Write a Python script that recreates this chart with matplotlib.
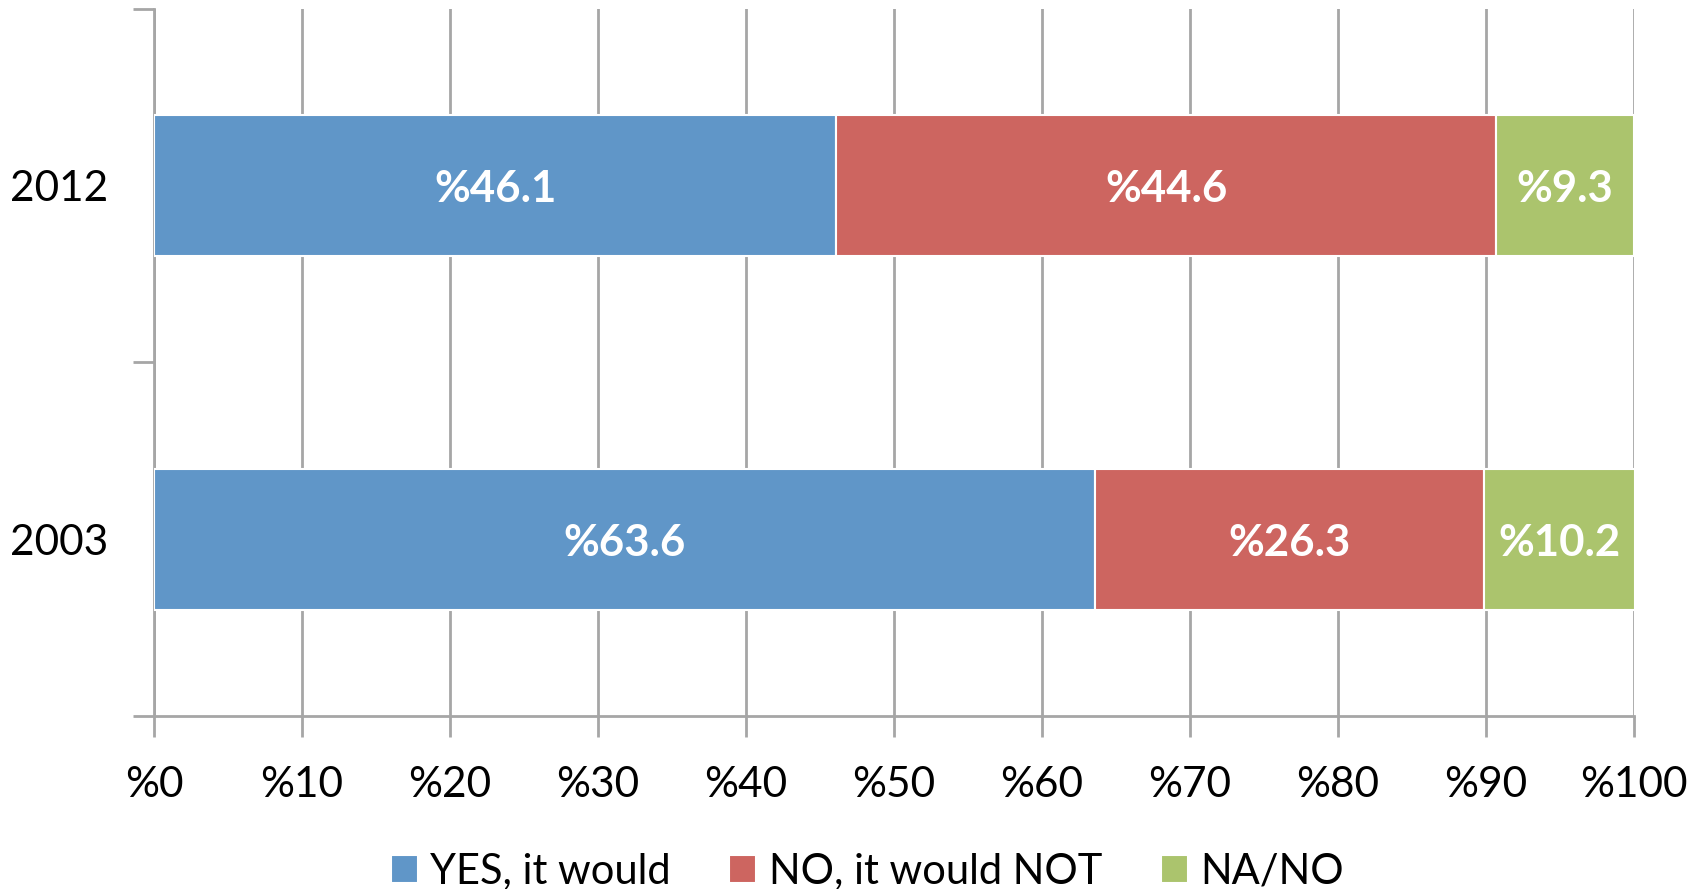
import matplotlib.pyplot as plt
import numpy as np

# data
years = ['2003', '2012']
yes_vals = [63.6, 46.1]
no_vals = [26.3, 44.6]
na_vals = [10.2, 9.3]
series_names = ['YES, it would', 'NO, it would NOT', 'NA/NO']
colors = ['#6096C8', '#CD6560', '#ABC46D']
x_ticks = list(range(0, 101, 10))

plt.rcParams['font.family'] = ['Lato', 'DejaVu Sans']

fig = plt.figure(figsize=(17.07, 8.89), dpi=100)
ax = fig.add_axes([0.0902, 0.1946, 0.8670, 0.7954])

ypos = np.arange(len(years)) + 0.5
left = np.zeros(len(years))
for vals, name, col in zip([yes_vals, no_vals, na_vals], series_names, colors):
    bars = ax.barh(ypos, vals, left=left, height=0.4, color=col,
                   edgecolor='white', linewidth=1.5, label=name, zorder=3)
    for b, v in zip(bars, vals):
        ax.text(b.get_x() + b.get_width() / 2, b.get_y() + b.get_height() / 2,
                '%' + f'{v:.1f}', ha='center', va='center_baseline', color='white',
                fontsize=31.5, fontweight='bold', zorder=4)
    left = left + np.array(vals)

ax.set_xlim(0, 100)
ax.set_ylim(0, 2)
ax.set_xticks(x_ticks)
ax.set_xticklabels(['%' + str(t) for t in x_ticks], fontsize=30.5)
ax.set_yticks(ypos)
ax.set_yticklabels(years, fontsize=30.5)
ax.set_yticks([0, 1, 2], minor=True)

ax.grid(axis='x', color='#A6A6A6', linewidth=2, zorder=0)
for s in ['top', 'right']:
    ax.spines[s].set_visible(False)
for s in ['left', 'bottom']:
    ax.spines[s].set_color('#A6A6A6')
    ax.spines[s].set_linewidth(2)

ax.tick_params(axis='x', length=15, width=2, color='#A6A6A6', pad=21)
ax.tick_params(axis='y', which='major', length=0, pad=33)
ax.tick_params(axis='y', which='minor', length=15, width=2, color='#A6A6A6')

ax.legend(loc='upper center', bbox_to_anchor=(0.482, -0.14), ncol=3,
          frameon=False, fontsize=30, handlelength=0.65, handleheight=0.65,
          columnspacing=1.4, handletextpad=0.3)

fig.savefig('out.png', dpi=100)
